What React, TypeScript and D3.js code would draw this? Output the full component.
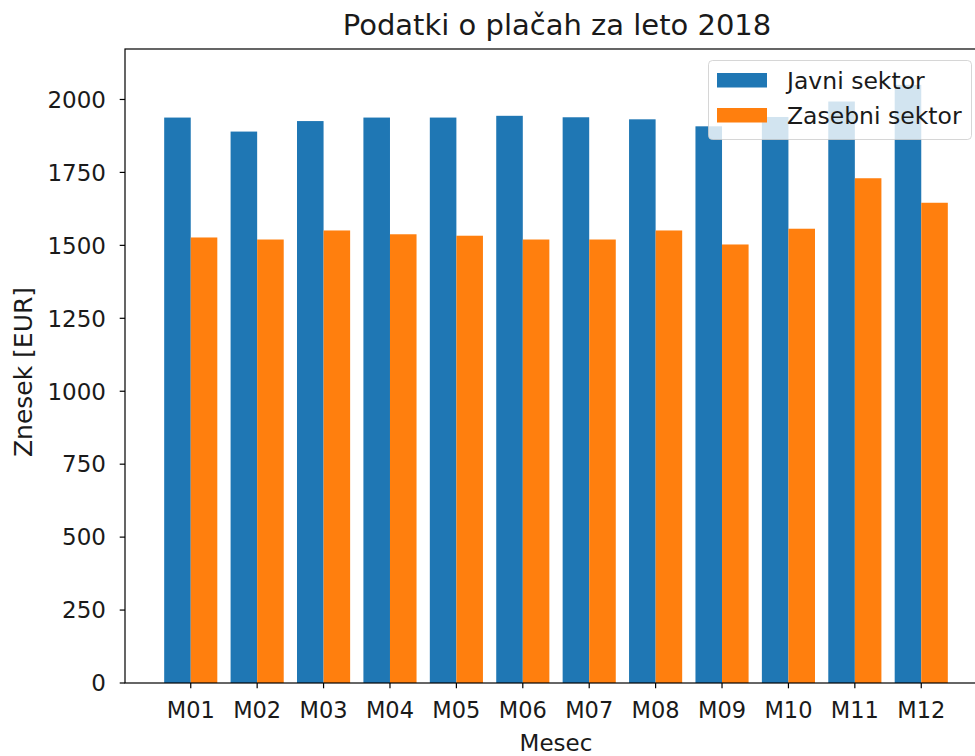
import { useMemo } from "react";
import * as d3 from "d3";

const months = ["M01", "M02", "M03", "M04", "M05", "M06", "M07", "M08", "M09", "M10", "M11", "M12"];
const javni = [1938, 1890, 1926, 1938, 1938, 1944, 1939, 1932, 1908, 1940, 1993, 2050];
const zasebni = [1527, 1520, 1551, 1538, 1533, 1520, 1520, 1551, 1503, 1557, 1730, 1646];
const yTickValues = [0, 250, 500, 750, 1000, 1250, 1500, 1750, 2000];
const seriesNames = ["Javni sektor", "Zasebni sektor"];
const colors = ["#1f77b4", "#ff7f0e"];

const font = "DejaVu Sans, sans-serif";

export default function App() {
    const width = 975;
    const height = 756;
    const left = 125;
    const right = 987;
    const top = 49;
    const bottom = 683;
    const barW = 0.4;

    const xScale = useMemo(() => d3.scaleLinear().domain([-0.99, 11.99]).range([left, right]), []);
    const yScale = useMemo(() => d3.scaleLinear().domain([0, 2173]).range([bottom, top]), []);

    const series = [javni, zasebni];

    return (
        <svg width={width} height={height} style={{ position: "absolute", left: 0, top: 0 }} fontFamily={font}>
            <rect x="0" y="0" width={width} height={height} fill="white" />

            {series.map((vals, s) =>
                vals.map((v, i) => {
                    const x0 = xScale(i + (s === 0 ? -barW : 0));
                    const x1 = xScale(i + (s === 0 ? 0 : barW));
                    return (
                        <rect
                            key={`${s}-${i}`}
                            x={x0}
                            y={yScale(v)}
                            width={x1 - x0}
                            height={yScale(0) - yScale(v)}
                            fill={colors[s]}
                        />
                    );
                })
            )}

            {/* spines */}
            <rect x={left} y={top} width={right - left} height={bottom - top} fill="none" stroke="black" strokeWidth="1.2" />

            {yTickValues.map((t) => (
                <g key={`y-${t}`} transform={`translate(${left}, ${yScale(t)})`}>
                    <line x1="0" y1="0" x2="-5.3" y2="0" stroke="black" strokeWidth="1.2" />
                    <text x="-19" y="8.3" textAnchor="end" fontSize="23" fill="#1a1a1a">{t}</text>
                </g>
            ))}

            {months.map((m, i) => (
                <g key={`x-${m}`} transform={`translate(${xScale(i)}, ${bottom})`}>
                    <line x1="0" y1="0" x2="0" y2="5.3" stroke="black" strokeWidth="1.2" />
                    <text y="35.3" textAnchor="middle" fontSize="22.5" fill="#1a1a1a">{m}</text>
                </g>
            ))}

            <text x="557" y="35" textAnchor="middle" fontSize="29" fill="#1a1a1a">
                Podatki o plačah za leto 2018
            </text>
            <text x="556" y="751" textAnchor="middle" fontSize="23" fill="#1a1a1a">Mesec</text>
            <text
                transform={`translate(31.5, 372) rotate(-90)`}
                textAnchor="middle"
                fontSize="25"
                fill="#1a1a1a"
            >
                Znesek [EUR]
            </text>

            {/* legend */}
            <g>
                <rect x="708.5" y="60.5" width="263" height="79" rx="4" fill="white" fillOpacity="0.8" stroke="#cccccc" strokeOpacity="0.8" />
                {seriesNames.map((n, s) => (
                    <g key={n} transform={`translate(717, ${73 + s * 35})`}>
                        <rect x="0" y="0" width="50" height="14.5" fill={colors[s]} />
                        <text x="70" y="15.5" fontSize="23.5" fill="#1a1a1a">{n}</text>
                    </g>
                ))}
            </g>
        </svg>
    );
}
